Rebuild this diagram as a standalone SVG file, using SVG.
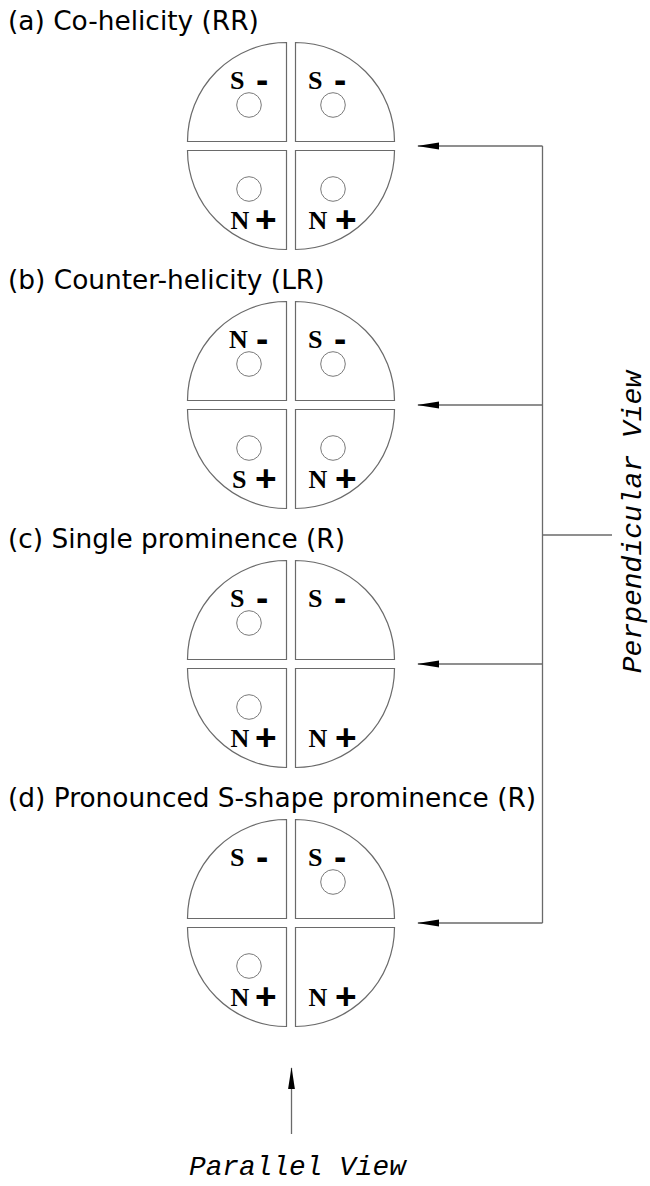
<svg xmlns="http://www.w3.org/2000/svg" width="650" height="1186" viewBox="0 0 650 1186">
<style>
.bg{fill:#fff}
.q{fill:#fff;stroke:#6a6a6a;stroke-width:1.2}
.c{fill:#fff;stroke:#7a7a7a;stroke-width:1}
.ttl{font-family:"DejaVu Sans",Verdana,sans-serif;font-size:26.4px;fill:#000}
.pol{font-family:"Liberation Serif","Times New Roman",serif;font-weight:bold;font-size:26px;fill:#000}
.sg{font-family:"Liberation Sans",Arial,sans-serif;font-weight:bold;font-size:37px}
.ln{fill:none;stroke:#6a6a6a;stroke-width:1.3}
.view{font-family:"Liberation Mono","Courier New",monospace;font-style:italic;fill:#000}
</style>
<defs>
<marker id="ah" markerUnits="userSpaceOnUse" viewBox="0 0 22 8" refX="21" refY="4" markerWidth="22" markerHeight="8" orient="auto">
<path d="M0,0.6 L22,4 L0,7.4 z" fill="#000"/>
</marker>
<g id="disk">
<path class="q" d="M-4.5,-4.5 V-103.5 A99,99 0 0 0 -103.5,-4.5 Z"/>
<path class="q" d="M4.5,-4.5 V-103.5 A99,99 0 0 1 103.5,-4.5 Z"/>
<path class="q" d="M-4.5,4.5 V103.5 A99,99 0 0 1 -103.5,4.5 Z"/>
<path class="q" d="M4.5,4.5 V103.5 A99,99 0 0 0 103.5,4.5 Z"/>
</g>
</defs>
<rect class="bg" x="0" y="0" width="650" height="1186"/>

<g id="nodeA">
<text class="ttl" x="8" y="30">(a) Co-helicity (RR)</text>
<use href="#disk" x="291" y="146"/>
<circle class="c" cx="249" cy="105" r="12.3"/>
<circle class="c" cx="333" cy="105" r="12.3"/>
<circle class="c" cx="249" cy="189" r="12.3"/>
<circle class="c" cx="333" cy="189" r="12.3"/>
<text class="pol"><tspan x="230" y="88.5">S</tspan><tspan class="sg" x="256" y="91.5">-</tspan></text>
<text class="pol"><tspan x="308" y="88.5">S</tspan><tspan class="sg" x="334" y="91.5">-</tspan></text>
<text class="pol"><tspan x="230.5" y="228.5">N</tspan><tspan class="sg" x="255" y="231.5">+</tspan></text>
<text class="pol"><tspan x="308.5" y="228.5">N</tspan><tspan class="sg" x="335" y="231.5">+</tspan></text>
</g>

<g id="nodeB">
<text class="ttl" x="8" y="289">(b) Counter-helicity (LR)</text>
<use href="#disk" x="291" y="405"/>
<circle class="c" cx="249" cy="364" r="12.3"/>
<circle class="c" cx="333" cy="364" r="12.3"/>
<circle class="c" cx="249" cy="448" r="12.3"/>
<circle class="c" cx="333" cy="448" r="12.3"/>
<text class="pol"><tspan x="229" y="347.5">N</tspan><tspan class="sg" x="256" y="350.5">-</tspan></text>
<text class="pol"><tspan x="308" y="347.5">S</tspan><tspan class="sg" x="334" y="350.5">-</tspan></text>
<text class="pol"><tspan x="232" y="487.5">S</tspan><tspan class="sg" x="255" y="490.5">+</tspan></text>
<text class="pol"><tspan x="308.5" y="487.5">N</tspan><tspan class="sg" x="335" y="490.5">+</tspan></text>
</g>

<g id="nodeC">
<text class="ttl" x="8" y="548">(c) Single prominence (R)</text>
<use href="#disk" x="291" y="664"/>
<circle class="c" cx="249" cy="623" r="12.3"/>
<circle class="c" cx="249" cy="707" r="12.3"/>
<text class="pol"><tspan x="230" y="606.5">S</tspan><tspan class="sg" x="256" y="609.5">-</tspan></text>
<text class="pol"><tspan x="308" y="606.5">S</tspan><tspan class="sg" x="334" y="609.5">-</tspan></text>
<text class="pol"><tspan x="230.5" y="746.5">N</tspan><tspan class="sg" x="255" y="749.5">+</tspan></text>
<text class="pol"><tspan x="308.5" y="746.5">N</tspan><tspan class="sg" x="335" y="749.5">+</tspan></text>
</g>

<g id="nodeD">
<text class="ttl" x="8" y="807">(d) Pronounced S-shape prominence (R)</text>
<use href="#disk" x="291" y="923"/>
<circle class="c" cx="333" cy="882" r="12.3"/>
<circle class="c" cx="249" cy="966" r="12.3"/>
<text class="pol"><tspan x="230" y="865.5">S</tspan><tspan class="sg" x="256" y="868.5">-</tspan></text>
<text class="pol"><tspan x="308" y="865.5">S</tspan><tspan class="sg" x="334" y="868.5">-</tspan></text>
<text class="pol"><tspan x="230.5" y="1005.5">N</tspan><tspan class="sg" x="255" y="1008.5">+</tspan></text>
<text class="pol"><tspan x="308.5" y="1005.5">N</tspan><tspan class="sg" x="335" y="1008.5">+</tspan></text>
</g>

<g id="connectors">
<path class="ln" d="M542.5,146 V923"/>
<path class="ln" d="M542.5,535 H612"/>
<path class="ln" d="M542.5,146 H418" marker-end="url(#ah)"/>
<path class="ln" d="M542.5,405 H418" marker-end="url(#ah)"/>
<path class="ln" d="M542.5,664 H418" marker-end="url(#ah)"/>
<path class="ln" d="M542.5,923 H418" marker-end="url(#ah)"/>
<path class="ln" d="M291.5,1134 V1068" marker-end="url(#ah)"/>
</g>

<g id="labels">
<text class="view" font-size="28" transform="translate(641,522) rotate(-90)" text-anchor="middle">Perpendicular View</text>
<text class="view" font-size="27.8" x="189" y="1175">Parallel View</text>
</g>
</svg>
